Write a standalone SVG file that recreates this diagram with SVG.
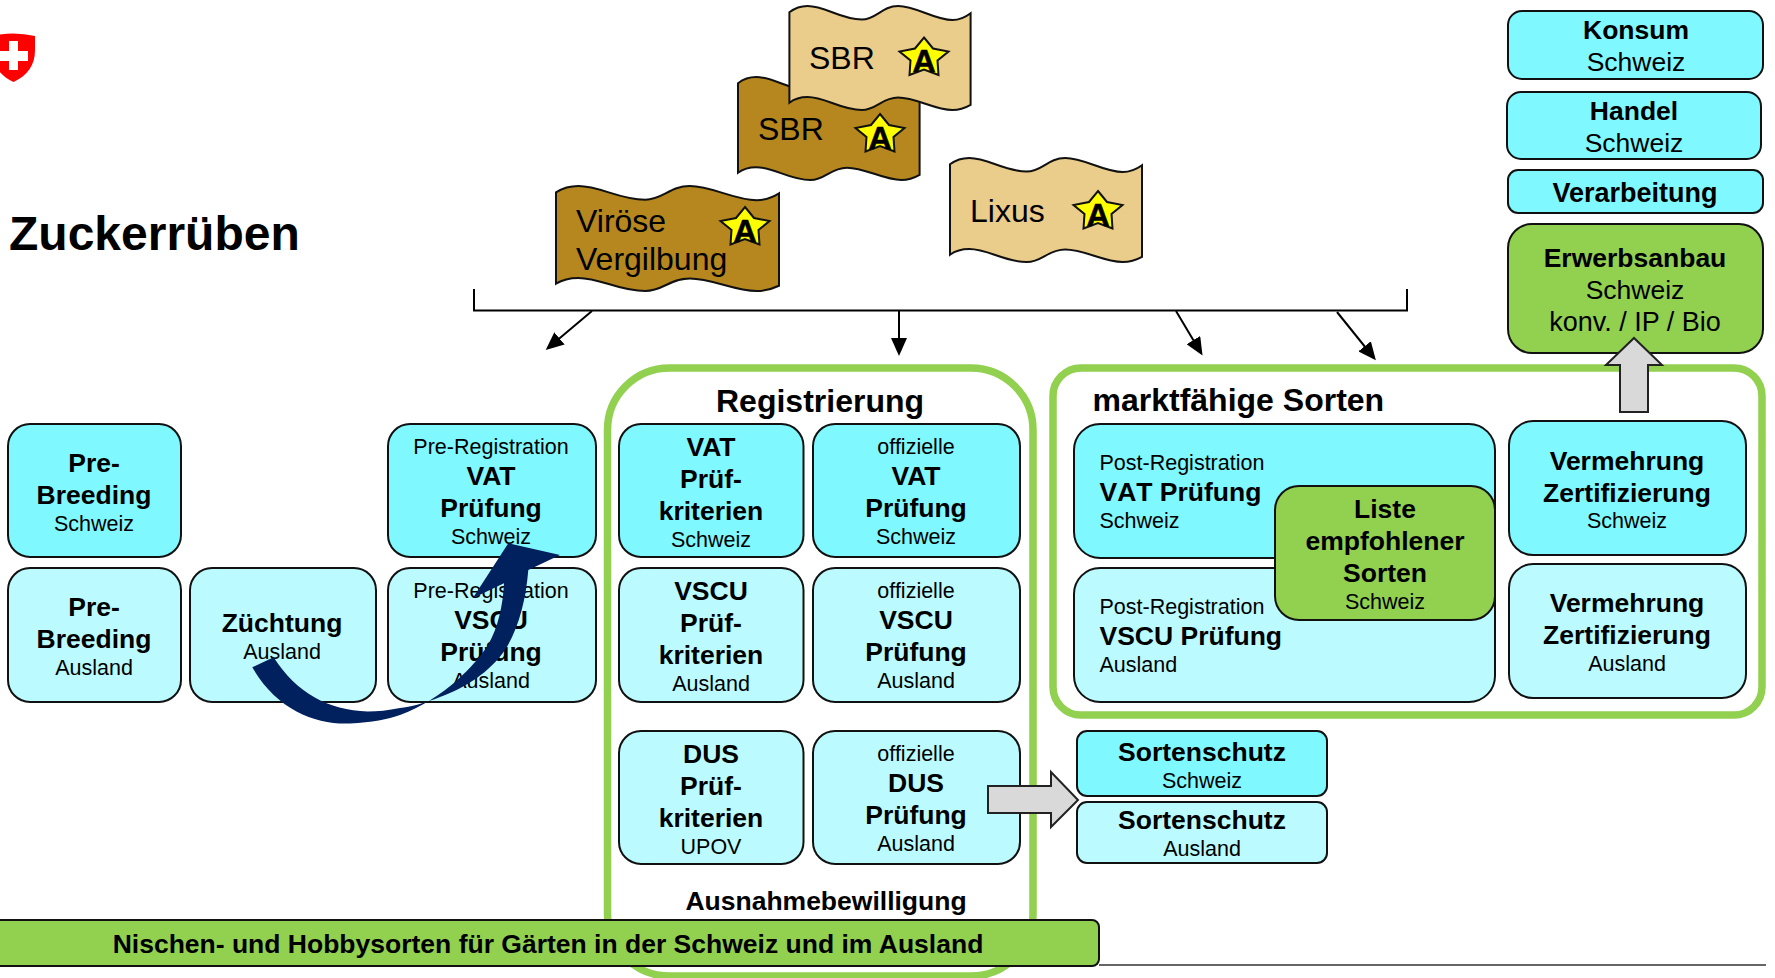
<svg xmlns="http://www.w3.org/2000/svg" width="1775" height="978" viewBox="0 0 1775 978">
<style>
text{font-family:"Liberation Sans",Arial,sans-serif;fill:#000}
.c{text-anchor:middle}
.b{font-weight:bold;font-size:26.5px}
.r{font-size:21.5px}
.B{font-weight:bold;font-size:26.5px}
.R{font-size:26.5px}
.f{font-size:32px}
.s{font-weight:bold;font-size:32px;text-anchor:middle;stroke:#000;stroke-width:.6}
.cy,.pa,.gr{stroke:#111;stroke-width:2}
.cy{fill:#80F8FF}.pa{fill:#BBFBFF}.gr{fill:#92D050}
.fr{fill:none;stroke:#92D050;stroke-width:7.5}
.li{fill:#EBCD8B}.da{fill:#B5871E}
.st{fill:#FFFF00;stroke:#111;stroke-width:2}
.ga{fill:#D9D9D9;stroke:#222;stroke-width:2}
.ln{fill:none;stroke:#000;stroke-width:2}
</style>
<defs>
<marker id="ah" markerUnits="userSpaceOnUse" markerWidth="18" markerHeight="16" refX="15" refY="8" orient="auto"><path d="M0,0L18,8L0,16Z" fill="#000"/></marker>
<path id="flag" stroke="#111" stroke-width="2" vector-effect="non-scaling-stroke" d="M0,6C3,2 6,0 10,0C20,0 28,13 40,13C48,13 51,0 60,0C70,0 80,13.5 90,13.5C94,13.5 97,11 100,7L100,95C97,98 94,100 90,100C80,100 70,88 60,88C51,88 48,100 40,100C28,100 20,87.5 10,87.5C6,87.5 3,89 0,93Z"/>
<polygon id="star" points="0,3 9,14 24.500,17 13.500,26 14.500,40.500 0,35 -14.500,40.500 -13.500,26 -24.500,17 -9,14"/>
</defs>
<rect width="1775" height="978" fill="#fff"/>

<g id="wappen"><path d="M-8,36Q13,31 35,36L35,50C35,65 28,75 13.5,82C0,76 -8,65 -8,50Z" fill="#FF0000"/><path d="M9,41H18V51H28V61H18V70H9V61H-2V51H9Z" fill="#fff"/></g>
<g id="titel"><text x="9" y="250" style="font-weight:bold;font-size:48px">Zuckerrüben</text></g>

<g id="virose"><use href="#flag" class="da" transform="translate(556,186) scale(2.23,1.05)"/><use href="#star" class="st" x="745" y="204"/><text class="s" x="745" y="241.500">A</text><text class="f" x="576" y="232">Viröse</text><text class="f" x="576" y="270">Vergilbung</text></g>
<g id="sbr-dunkel"><use href="#flag" class="da" transform="translate(738,77) scale(1.816,1.03)"/><use href="#star" class="st" x="880" y="111"/><text class="s" x="880" y="148.500">A</text><text class="f" x="758" y="140">SBR</text></g>
<g id="sbr-hell"><use href="#flag" class="li" transform="translate(789.4,6) scale(1.812,1.04)"/><use href="#star" class="st" x="924" y="34.500"/><text class="s" x="924" y="72">A</text><text class="f" x="809" y="69">SBR</text></g>
<g id="lixus"><use href="#flag" class="li" transform="translate(950,158) scale(1.92,1.04)"/><use href="#star" class="st" x="1098" y="188"/><text class="s" x="1098" y="225.500">A</text><text class="f" x="970" y="222">Lixus</text></g>

<g id="connectors">
<path class="ln" d="M474,289V310.500H1407V289"/>
<path class="ln" d="M592,311L548,348" marker-end="url(#ah)"/>
<path class="ln" d="M899,311V353" marker-end="url(#ah)"/>
<path class="ln" d="M1176,311L1201,353" marker-end="url(#ah)"/>
<path class="ln" d="M1337,312L1374,358" marker-end="url(#ah)"/>
</g>

<g id="rahmen-registrierung"><rect class="fr" x="607.500" y="368" width="425.500" height="608" rx="62"/><text x="820" y="412" class="c" style="font-weight:bold;font-size:32px">Registrierung</text><text x="826" y="910" class="c B">Ausnahmebewilligung</text></g>
<g id="rahmen-markt"><rect class="fr" x="1053" y="368" width="709" height="347" rx="28"/><text x="1092.500" y="411" style="font-weight:bold;font-size:32px">marktfähige Sorten</text></g>

<g id="prebreeding-ch"><rect class="cy" x="8" y="424" width="173" height="133" rx="22"/><text class="c b" x="94" y="472">Pre-</text><text class="c b" x="94" y="504">Breeding</text><text class="c r" x="94" y="531">Schweiz</text></g>
<g id="prebreeding-a"><rect class="pa" x="8" y="568" width="173" height="134" rx="22"/><text class="c b" x="94" y="616">Pre-</text><text class="c b" x="94" y="648">Breeding</text><text class="c r" x="94" y="675">Ausland</text></g>
<g id="zuechtung"><rect class="pa" x="190" y="568" width="186" height="134" rx="22"/><text class="c b" x="282" y="632">Züchtung</text><text class="c r" x="282" y="659">Ausland</text></g>
<g id="prereg-vat"><rect class="cy" x="388" y="424" width="208" height="133" rx="22"/><text class="c r" x="491" y="454">Pre-Registration</text><text class="c b" x="491" y="485">VAT</text><text class="c b" x="491" y="517">Prüfung</text><text class="c r" x="491" y="544">Schweiz</text></g>
<g id="prereg-vscu"><rect class="pa" x="388" y="568" width="208" height="134" rx="22"/><text class="c r" x="491" y="598">Pre-Registration</text><text class="c b" x="491" y="629">VSCU</text><text class="c b" x="491" y="661">Prüfung</text><text class="c r" x="491" y="688">Ausland</text></g>

<g id="vat-krit"><rect class="cy" x="619" y="424" width="184.500" height="133" rx="22"/><text class="c b" x="711" y="456">VAT</text><text class="c b" x="711" y="488">Prüf-</text><text class="c b" x="711" y="520">kriterien</text><text class="c r" x="711" y="547">Schweiz</text></g>
<g id="vat-off"><rect class="cy" x="813" y="424" width="207" height="133" rx="22"/><text class="c r" x="916" y="454">offizielle</text><text class="c b" x="916" y="485">VAT</text><text class="c b" x="916" y="517">Prüfung</text><text class="c r" x="916" y="544">Schweiz</text></g>
<g id="vscu-krit"><rect class="pa" x="619" y="568" width="184.500" height="134" rx="22"/><text class="c b" x="711" y="600">VSCU</text><text class="c b" x="711" y="632">Prüf-</text><text class="c b" x="711" y="664">kriterien</text><text class="c r" x="711" y="691">Ausland</text></g>
<g id="vscu-off"><rect class="pa" x="813" y="568" width="207" height="134" rx="22"/><text class="c r" x="916" y="598">offizielle</text><text class="c b" x="916" y="629">VSCU</text><text class="c b" x="916" y="661">Prüfung</text><text class="c r" x="916" y="688">Ausland</text></g>
<g id="dus-krit"><rect class="pa" x="619" y="731" width="184.500" height="133" rx="22"/><text class="c b" x="711" y="763">DUS</text><text class="c b" x="711" y="795">Prüf-</text><text class="c b" x="711" y="827">kriterien</text><text class="c r" x="711" y="854">UPOV</text></g>
<g id="dus-off"><rect class="pa" x="813" y="731" width="207" height="133" rx="22"/><text class="c r" x="916" y="761">offizielle</text><text class="c b" x="916" y="792">DUS</text><text class="c b" x="916" y="824">Prüfung</text><text class="c r" x="916" y="851">Ausland</text></g>

<g id="post-vat"><rect class="cy" x="1074" y="424" width="421" height="134" rx="26"/><text class="r" x="1099.500" y="470">Post-Registration</text><text class="b" x="1099.500" y="501" style="font-kerning:none">VAT Prüfung</text><text class="r" x="1099.500" y="528">Schweiz</text></g>
<g id="post-vscu"><rect class="pa" x="1074" y="568" width="421" height="134" rx="26"/><text class="r" x="1099.500" y="614">Post-Registration</text><text class="b" x="1099.500" y="645">VSCU Prüfung</text><text class="r" x="1099.500" y="672">Ausland</text></g>
<g id="liste"><rect class="gr" x="1275" y="486" width="220" height="134" rx="24"/><text class="c b" x="1385" y="518">Liste</text><text class="c b" x="1385" y="550">empfohlener</text><text class="c b" x="1385" y="582">Sorten</text><text class="c r" x="1385" y="609">Schweiz</text></g>
<g id="verm-ch"><rect class="cy" x="1509" y="421" width="237" height="134" rx="24"/><text class="c b" x="1627" y="470">Vermehrung</text><text class="c b" x="1627" y="502">Zertifizierung</text><text class="c r" x="1627" y="528">Schweiz</text></g>
<g id="verm-a"><rect class="pa" x="1509" y="564" width="237" height="134" rx="24"/><text class="c b" x="1627" y="612">Vermehrung</text><text class="c b" x="1627" y="644">Zertifizierung</text><text class="c r" x="1627" y="671">Ausland</text></g>

<g id="konsum"><rect class="cy" x="1508" y="11" width="255" height="68" rx="14"/><text class="c B" x="1636" y="39">Konsum</text><text class="c R" x="1636" y="71">Schweiz</text></g>
<g id="handel"><rect class="cy" x="1507" y="92" width="254" height="67" rx="14"/><text class="c B" x="1634" y="120">Handel</text><text class="c R" x="1634" y="152">Schweiz</text></g>
<g id="verarbeitung"><rect class="cy" x="1508" y="170" width="255" height="43" rx="10"/><text class="c B" x="1635" y="202" style="font-size:27px">Verarbeitung</text></g>
<g id="erwerbsanbau"><rect class="gr" x="1508" y="224" width="255" height="129" rx="24"/><text class="c B" x="1635" y="267">Erwerbsanbau</text><text class="c R" x="1635" y="299">Schweiz</text><text class="c R" x="1635" y="331" style="font-size:27px">konv. / IP / Bio</text></g>

<g id="sortenschutz-ch"><rect class="cy" x="1077" y="731" width="250" height="65" rx="10"/><text class="c b" x="1202" y="761">Sortenschutz</text><text class="c r" x="1202" y="788">Schweiz</text></g>
<g id="sortenschutz-a"><rect class="pa" x="1077" y="802" width="250" height="61" rx="10"/><text class="c b" x="1202" y="829">Sortenschutz</text><text class="c r" x="1202" y="856">Ausland</text></g>

<g id="block-arrows">
<polygon class="ga" points="1620,412 1620,365 1606,365 1634,338 1662,365 1648,365 1648,412"/>
<polygon class="ga" points="988,786 1051,786 1051,772 1078,800 1051,827 1051,813 988,813"/>
<path d="M252.300,667.300C276.800,710 316.300,725 350,723.500C372,722.500 388,719 400,715C445,698 475,665 488,645C498,628 503,605 504,583.300L472.700,598.300L508.300,543.300L560,555L528.300,570C526,600 518,630 505,650C490,672 465,688 440,697C425,703 410,707 400,708C388,710.500 378,711.500 367.700,711.500C328.200,710 296.600,693.300 273.600,657.300Z" fill="#00205E"/>
</g>

<g id="fusslinie"><path d="M1099,965H1766" stroke="#333" stroke-width="1.500" fill="none"/></g>
<g id="nischen"><rect class="gr" x="-6" y="920" width="1105" height="46" rx="7"/><text class="c" x="548" y="953" style="font-weight:bold;font-size:26.500px">Nischen- und Hobbysorten für Gärten in der Schweiz und im Ausland</text></g>
</svg>
